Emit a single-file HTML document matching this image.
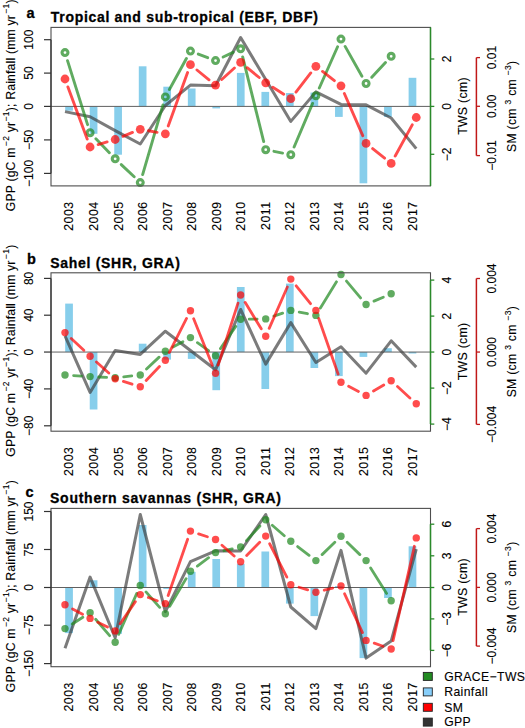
<!DOCTYPE html><html><head><meta charset="utf-8"><style>html,body{margin:0;padding:0;background:#fff;overflow:hidden} svg{display:block} text{font-family:"Liberation Sans", sans-serif;stroke:#000;stroke-width:0.12px}</style></head><body>
<svg width="525" height="728" viewBox="0 0 525 728">
<g>
<rect width="525" height="728" fill="#fff"/>
<rect x="65.20" y="106.40" width="7.7" height="4.30" fill="#87CEEB"/>
<rect x="89.73" y="106.40" width="7.7" height="27.40" fill="#87CEEB"/>
<rect x="114.26" y="106.40" width="7.7" height="48.30" fill="#87CEEB"/>
<rect x="138.79" y="66.30" width="7.7" height="40.10" fill="#87CEEB"/>
<rect x="163.32" y="86.70" width="7.7" height="19.70" fill="#87CEEB"/>
<rect x="187.85" y="88.50" width="7.7" height="17.90" fill="#87CEEB"/>
<rect x="212.38" y="106.40" width="7.7" height="2.00" fill="#87CEEB"/>
<rect x="236.91" y="72.90" width="7.7" height="33.50" fill="#87CEEB"/>
<rect x="261.44" y="91.90" width="7.7" height="14.50" fill="#87CEEB"/>
<rect x="285.97" y="93.00" width="7.7" height="13.40" fill="#87CEEB"/>
<rect x="310.50" y="92.60" width="7.7" height="13.80" fill="#87CEEB"/>
<rect x="335.03" y="106.40" width="7.7" height="10.50" fill="#87CEEB"/>
<rect x="359.56" y="106.40" width="7.7" height="76.90" fill="#87CEEB"/>
<rect x="384.09" y="106.40" width="7.7" height="10.50" fill="#87CEEB"/>
<rect x="408.62" y="77.80" width="7.7" height="28.60" fill="#87CEEB"/>
<line x1="51.0" y1="106.4" x2="430.5" y2="106.4" stroke="#606060" stroke-width="1"/>
<polyline points="65.00,111.60 90.09,116.80 115.18,130.60 140.27,144.00 165.36,105.50 190.45,85.10 215.54,85.80 240.63,37.50 265.72,79.50 290.81,121.40 315.90,91.90 340.99,104.40 366.08,104.80 391.17,118.00 416.26,148.60" fill="none" stroke="rgba(60,60,60,0.68)" stroke-width="3" stroke-linejoin="round" stroke-linecap="butt"/>
<path d="M67.51,60.62L87.58,124.68M95.91,138.76L109.36,152.74M121.27,164.58L134.18,176.82M142.63,174.54L163.00,104.96M169.40,89.53L186.41,58.47M198.31,54.07L207.68,57.63M223.14,57.03L233.03,52.37M242.66,56.95L263.69,141.55M273.96,151.34L282.57,153.06M294.10,146.97L312.61,103.43M319.30,88.02L337.59,46.78M345.12,46.41L361.95,76.19M371.78,77.33L385.47,62.47" fill="none" stroke="rgba(34,139,34,0.72)" stroke-width="2.9" stroke-linecap="round"/>
<circle cx="65.00" cy="52.60" r="2.95" fill="none" stroke="rgba(34,139,34,0.72)" stroke-width="3.1"/>
<circle cx="90.09" cy="132.70" r="2.95" fill="none" stroke="rgba(34,139,34,0.72)" stroke-width="3.1"/>
<circle cx="115.18" cy="158.80" r="2.95" fill="none" stroke="rgba(34,139,34,0.72)" stroke-width="3.1"/>
<circle cx="140.27" cy="182.60" r="2.95" fill="none" stroke="rgba(34,139,34,0.72)" stroke-width="3.1"/>
<circle cx="165.36" cy="96.90" r="2.95" fill="none" stroke="rgba(34,139,34,0.72)" stroke-width="3.1"/>
<circle cx="190.45" cy="51.10" r="2.95" fill="none" stroke="rgba(34,139,34,0.72)" stroke-width="3.1"/>
<circle cx="215.54" cy="60.60" r="2.95" fill="none" stroke="rgba(34,139,34,0.72)" stroke-width="3.1"/>
<circle cx="240.63" cy="48.80" r="2.95" fill="none" stroke="rgba(34,139,34,0.72)" stroke-width="3.1"/>
<circle cx="265.72" cy="149.70" r="2.95" fill="none" stroke="rgba(34,139,34,0.72)" stroke-width="3.1"/>
<circle cx="290.81" cy="154.70" r="2.95" fill="none" stroke="rgba(34,139,34,0.72)" stroke-width="3.1"/>
<circle cx="315.90" cy="95.70" r="2.95" fill="none" stroke="rgba(34,139,34,0.72)" stroke-width="3.1"/>
<circle cx="340.99" cy="39.10" r="2.95" fill="none" stroke="rgba(34,139,34,0.72)" stroke-width="3.1"/>
<circle cx="366.08" cy="83.50" r="2.95" fill="none" stroke="rgba(34,139,34,0.72)" stroke-width="3.1"/>
<circle cx="391.17" cy="56.30" r="2.95" fill="none" stroke="rgba(34,139,34,0.72)" stroke-width="3.1"/>
<path d="M67.91,86.88L87.18,139.12M98.14,144.59L107.13,141.91M122.96,136.34L132.49,132.46M148.54,130.78L157.09,132.32M168.23,125.90L187.58,72.60M196.97,70.00L209.02,79.80M221.77,79.46L234.40,68.04M247.15,67.70L259.20,77.50M272.82,87.30L283.71,94.20M295.95,92.06L310.76,72.94M322.53,71.45L334.36,80.65M344.34,93.50L362.73,135.70M372.65,148.64L384.60,158.16M395.20,156.03L412.23,124.87" fill="none" stroke="rgba(255,0,0,0.70)" stroke-width="2.9" stroke-linecap="round"/>
<circle cx="65.00" cy="79.00" r="4.4" fill="rgba(255,0,0,0.70)"/>
<circle cx="90.09" cy="147.00" r="4.4" fill="rgba(255,0,0,0.70)"/>
<circle cx="115.18" cy="139.50" r="4.4" fill="rgba(255,0,0,0.70)"/>
<circle cx="140.27" cy="129.30" r="4.4" fill="rgba(255,0,0,0.70)"/>
<circle cx="165.36" cy="133.80" r="4.4" fill="rgba(255,0,0,0.70)"/>
<circle cx="190.45" cy="64.70" r="4.4" fill="rgba(255,0,0,0.70)"/>
<circle cx="215.54" cy="85.10" r="4.4" fill="rgba(255,0,0,0.70)"/>
<circle cx="240.63" cy="62.40" r="4.4" fill="rgba(255,0,0,0.70)"/>
<circle cx="265.72" cy="82.80" r="4.4" fill="rgba(255,0,0,0.70)"/>
<circle cx="290.81" cy="98.70" r="4.4" fill="rgba(255,0,0,0.70)"/>
<circle cx="315.90" cy="66.30" r="4.4" fill="rgba(255,0,0,0.70)"/>
<circle cx="340.99" cy="85.80" r="4.4" fill="rgba(255,0,0,0.70)"/>
<circle cx="366.08" cy="143.40" r="4.4" fill="rgba(255,0,0,0.70)"/>
<circle cx="391.17" cy="163.40" r="4.4" fill="rgba(255,0,0,0.70)"/>
<circle cx="416.26" cy="117.50" r="4.4" fill="rgba(255,0,0,0.70)"/>
<rect x="51.0" y="27.4" width="379.5" height="158.5" fill="none" stroke="#4e4e4e" stroke-width="1.1"/>
<line x1="51.0" y1="39.7" x2="51.0" y2="173.4" stroke="#333" stroke-width="1.2"/>
<line x1="44" y1="39.7" x2="51.0" y2="39.7" stroke="#333" stroke-width="1.2"/>
<text transform="translate(33.00,39.70) rotate(-90)" text-anchor="middle" font-size="12" font-weight="normal" fill="#000" >100</text>
<line x1="44" y1="73.1" x2="51.0" y2="73.1" stroke="#333" stroke-width="1.2"/>
<text transform="translate(33.00,73.10) rotate(-90)" text-anchor="middle" font-size="12" font-weight="normal" fill="#000" >50</text>
<line x1="44" y1="106.4" x2="51.0" y2="106.4" stroke="#333" stroke-width="1.2"/>
<text transform="translate(33.00,106.40) rotate(-90)" text-anchor="middle" font-size="12" font-weight="normal" fill="#000" >0</text>
<line x1="44" y1="139.9" x2="51.0" y2="139.9" stroke="#333" stroke-width="1.2"/>
<text transform="translate(33.00,139.90) rotate(-90)" text-anchor="middle" font-size="12" font-weight="normal" fill="#000" >−50</text>
<line x1="44" y1="173.4" x2="51.0" y2="173.4" stroke="#333" stroke-width="1.2"/>
<text transform="translate(33.00,173.40) rotate(-90)" text-anchor="middle" font-size="12" font-weight="normal" fill="#000" >−100</text>
<text transform="translate(73.45,201.25) rotate(-90)" text-anchor="end" font-size="12.3" font-weight="normal" fill="#000" style="letter-spacing:0.55px" >2003</text>
<text transform="translate(97.98,201.25) rotate(-90)" text-anchor="end" font-size="12.3" font-weight="normal" fill="#000" style="letter-spacing:0.55px" >2004</text>
<text transform="translate(122.51,201.25) rotate(-90)" text-anchor="end" font-size="12.3" font-weight="normal" fill="#000" style="letter-spacing:0.55px" >2005</text>
<text transform="translate(147.04,201.25) rotate(-90)" text-anchor="end" font-size="12.3" font-weight="normal" fill="#000" style="letter-spacing:0.55px" >2006</text>
<text transform="translate(171.57,201.25) rotate(-90)" text-anchor="end" font-size="12.3" font-weight="normal" fill="#000" style="letter-spacing:0.55px" >2007</text>
<text transform="translate(196.10,201.25) rotate(-90)" text-anchor="end" font-size="12.3" font-weight="normal" fill="#000" style="letter-spacing:0.55px" >2008</text>
<text transform="translate(220.63,201.25) rotate(-90)" text-anchor="end" font-size="12.3" font-weight="normal" fill="#000" style="letter-spacing:0.55px" >2009</text>
<text transform="translate(245.16,201.25) rotate(-90)" text-anchor="end" font-size="12.3" font-weight="normal" fill="#000" style="letter-spacing:0.55px" >2010</text>
<text transform="translate(269.69,201.25) rotate(-90)" text-anchor="end" font-size="12.3" font-weight="normal" fill="#000" style="letter-spacing:0.55px" >2011</text>
<text transform="translate(294.22,201.25) rotate(-90)" text-anchor="end" font-size="12.3" font-weight="normal" fill="#000" style="letter-spacing:0.55px" >2012</text>
<text transform="translate(318.75,201.25) rotate(-90)" text-anchor="end" font-size="12.3" font-weight="normal" fill="#000" style="letter-spacing:0.55px" >2013</text>
<text transform="translate(343.28,201.25) rotate(-90)" text-anchor="end" font-size="12.3" font-weight="normal" fill="#000" style="letter-spacing:0.55px" >2014</text>
<text transform="translate(367.81,201.25) rotate(-90)" text-anchor="end" font-size="12.3" font-weight="normal" fill="#000" style="letter-spacing:0.55px" >2015</text>
<text transform="translate(392.34,201.25) rotate(-90)" text-anchor="end" font-size="12.3" font-weight="normal" fill="#000" style="letter-spacing:0.55px" >2016</text>
<text transform="translate(416.87,201.25) rotate(-90)" text-anchor="end" font-size="12.3" font-weight="normal" fill="#000" style="letter-spacing:0.55px" >2017</text>
<line x1="430.5" y1="27.4" x2="430.5" y2="185.9" stroke="#2a8a2a" stroke-width="1.5"/>
<line x1="430.5" y1="59.0" x2="434.3" y2="59.0" stroke="#2a8a2a" stroke-width="1.3"/>
<text transform="translate(450.70,59.00) rotate(-90)" text-anchor="middle" font-size="12" font-weight="normal" fill="#000" >2</text>
<line x1="430.5" y1="106.4" x2="434.3" y2="106.4" stroke="#2a8a2a" stroke-width="1.3"/>
<text transform="translate(450.70,106.40) rotate(-90)" text-anchor="middle" font-size="12" font-weight="normal" fill="#000" >0</text>
<line x1="430.5" y1="154.3" x2="434.3" y2="154.3" stroke="#2a8a2a" stroke-width="1.3"/>
<text transform="translate(450.70,154.30) rotate(-90)" text-anchor="middle" font-size="12" font-weight="normal" fill="#000" >−2</text>
<text transform="translate(466.80,106.00) rotate(-90)" text-anchor="middle" font-size="12.3" font-weight="normal" fill="#000" style="letter-spacing:0.3px" >TWS (cm)</text>
<line x1="476.4" y1="57.6" x2="476.4" y2="155.6" stroke="#c01818" stroke-width="1.5"/>
<line x1="476.4" y1="57.6" x2="480" y2="57.6" stroke="#c01818" stroke-width="1.3"/>
<text transform="translate(496.00,57.60) rotate(-90)" text-anchor="middle" font-size="12" font-weight="normal" fill="#000" >0.01</text>
<line x1="476.4" y1="106.3" x2="480" y2="106.3" stroke="#c01818" stroke-width="1.3"/>
<text transform="translate(496.00,106.30) rotate(-90)" text-anchor="middle" font-size="12" font-weight="normal" fill="#000" >0.00</text>
<line x1="476.4" y1="155.6" x2="480" y2="155.6" stroke="#c01818" stroke-width="1.3"/>
<text transform="translate(496.00,155.60) rotate(-90)" text-anchor="middle" font-size="12" font-weight="normal" fill="#000" >−0.01</text>
<text transform="translate(515.80,106.30) rotate(-90)" text-anchor="middle" font-size="12.2" font-weight="normal" fill="#000" style="letter-spacing:0.3px" >SM (cm <tspan dy="-5" font-size="8.5">3</tspan><tspan dy="5"> cm </tspan><tspan dy="-5" font-size="8.5">−3</tspan><tspan dy="5">)</tspan></text>
<text transform="translate(15.00,105.25) rotate(-90)" text-anchor="middle" font-size="12.2" font-weight="normal" fill="#000" style="letter-spacing:0.19px" >GPP (gC m<tspan dx="1.5" dy="-6" font-size="8.5">−2</tspan><tspan dy="6"> yr</tspan><tspan dx="0.5" dy="-6" font-size="8.5">−1</tspan><tspan dy="6">); Rainfall (mm yr</tspan><tspan dx="1.5" dy="-6" font-size="8.5">−1</tspan><tspan dy="6">)</tspan></text>
<text x="26.5" y="17.8" font-size="14.5" font-weight="bold" style="stroke-width:0.3px">a</text>
<text x="50.8" y="22.0" font-size="14" font-weight="bold" style="stroke-width:0.3px" textLength="267" lengthAdjust="spacing">Tropical and sub-tropical (EBF, DBF)</text>
<rect x="65.20" y="303.60" width="7.7" height="48.45" fill="#87CEEB"/>
<rect x="89.73" y="352.05" width="7.7" height="57.45" fill="#87CEEB"/>
<rect x="138.79" y="343.70" width="7.7" height="8.35" fill="#87CEEB"/>
<rect x="163.32" y="352.05" width="7.7" height="7.55" fill="#87CEEB"/>
<rect x="187.85" y="352.05" width="7.7" height="6.85" fill="#87CEEB"/>
<rect x="212.38" y="352.05" width="7.7" height="38.15" fill="#87CEEB"/>
<rect x="236.91" y="287.00" width="7.7" height="65.05" fill="#87CEEB"/>
<rect x="261.44" y="352.05" width="7.7" height="36.95" fill="#87CEEB"/>
<rect x="285.97" y="283.60" width="7.7" height="68.45" fill="#87CEEB"/>
<rect x="310.50" y="352.05" width="7.7" height="15.95" fill="#87CEEB"/>
<rect x="335.03" y="352.05" width="7.7" height="24.05" fill="#87CEEB"/>
<rect x="359.56" y="352.05" width="7.7" height="4.85" fill="#87CEEB"/>
<rect x="384.09" y="348.20" width="7.7" height="3.85" fill="#87CEEB"/>
<rect x="408.62" y="352.05" width="7.7" height="1.45" fill="#87CEEB"/>
<line x1="51.0" y1="352.05" x2="430.5" y2="352.05" stroke="#606060" stroke-width="1"/>
<polyline points="65.00,335.80 90.09,392.40 115.18,350.50 140.27,354.40 165.36,331.20 190.45,350.50 215.54,369.80 240.63,309.50 265.72,364.10 290.81,322.60 315.90,362.50 340.99,346.70 366.08,373.20 391.17,340.80 416.26,367.10" fill="none" stroke="rgba(60,60,60,0.68)" stroke-width="3" stroke-linejoin="round" stroke-linecap="butt"/>
<path d="M73.58,375.55L81.51,376.05M98.68,376.98L106.59,377.32M123.73,376.78L131.72,375.92M146.51,369.08L159.12,357.12M172.92,347.10L182.89,341.70M197.42,342.63L208.57,350.67M220.42,348.62L235.75,326.38M249.23,319.16L257.12,319.04M273.87,316.14L282.66,313.16M299.24,312.08L307.47,313.72M320.40,308.07L336.49,281.83M346.51,281.10L360.56,297.90M373.99,301.13L383.26,297.17" fill="none" stroke="rgba(34,139,34,0.72)" stroke-width="2.8" stroke-linecap="round"/>
<circle cx="65.00" cy="375.00" r="3.7" fill="rgba(34,139,34,0.72)"/>
<circle cx="90.09" cy="376.60" r="3.7" fill="rgba(34,139,34,0.72)"/>
<circle cx="115.18" cy="377.70" r="3.7" fill="rgba(34,139,34,0.72)"/>
<circle cx="140.27" cy="375.00" r="3.7" fill="rgba(34,139,34,0.72)"/>
<circle cx="165.36" cy="351.20" r="3.7" fill="rgba(34,139,34,0.72)"/>
<circle cx="190.45" cy="337.60" r="3.7" fill="rgba(34,139,34,0.72)"/>
<circle cx="215.54" cy="355.70" r="3.7" fill="rgba(34,139,34,0.72)"/>
<circle cx="240.63" cy="319.30" r="3.7" fill="rgba(34,139,34,0.72)"/>
<circle cx="265.72" cy="318.90" r="3.7" fill="rgba(34,139,34,0.72)"/>
<circle cx="290.81" cy="310.40" r="3.7" fill="rgba(34,139,34,0.72)"/>
<circle cx="315.90" cy="315.40" r="3.7" fill="rgba(34,139,34,0.72)"/>
<circle cx="340.99" cy="274.50" r="3.7" fill="rgba(34,139,34,0.72)"/>
<circle cx="366.08" cy="304.50" r="3.7" fill="rgba(34,139,34,0.72)"/>
<circle cx="391.17" cy="293.80" r="3.7" fill="rgba(34,139,34,0.72)"/>
<path d="M71.26,338.49L83.83,350.31M96.48,361.96L108.79,373.04M123.37,381.41L132.08,384.19M146.17,380.54L159.46,366.46M169.25,352.53L186.56,318.47M193.66,318.78L212.33,365.22M218.17,365.01L238.00,303.19M245.10,302.35L261.25,328.85M269.18,328.33L287.35,286.97M296.19,285.81L310.52,303.69M318.73,318.52L338.16,374.18M348.61,386.28L358.46,391.42M373.50,391.05L383.75,385.05M397.50,386.53L409.93,397.97" fill="none" stroke="rgba(255,0,0,0.70)" stroke-width="2.8" stroke-linecap="round"/>
<circle cx="65.00" cy="332.60" r="3.7" fill="rgba(255,0,0,0.70)"/>
<circle cx="90.09" cy="356.20" r="3.7" fill="rgba(255,0,0,0.70)"/>
<circle cx="115.18" cy="378.80" r="3.7" fill="rgba(255,0,0,0.70)"/>
<circle cx="140.27" cy="386.80" r="3.7" fill="rgba(255,0,0,0.70)"/>
<circle cx="165.36" cy="360.20" r="3.7" fill="rgba(255,0,0,0.70)"/>
<circle cx="190.45" cy="310.80" r="3.7" fill="rgba(255,0,0,0.70)"/>
<circle cx="215.54" cy="373.20" r="3.7" fill="rgba(255,0,0,0.70)"/>
<circle cx="240.63" cy="295.00" r="3.7" fill="rgba(255,0,0,0.70)"/>
<circle cx="265.72" cy="336.20" r="3.7" fill="rgba(255,0,0,0.70)"/>
<circle cx="290.81" cy="279.10" r="3.7" fill="rgba(255,0,0,0.70)"/>
<circle cx="315.90" cy="310.40" r="3.7" fill="rgba(255,0,0,0.70)"/>
<circle cx="340.99" cy="382.30" r="3.7" fill="rgba(255,0,0,0.70)"/>
<circle cx="366.08" cy="395.40" r="3.7" fill="rgba(255,0,0,0.70)"/>
<circle cx="391.17" cy="380.70" r="3.7" fill="rgba(255,0,0,0.70)"/>
<circle cx="416.26" cy="403.80" r="3.7" fill="rgba(255,0,0,0.70)"/>
<rect x="51.0" y="272.8" width="379.5" height="158.39999999999998" fill="none" stroke="#4e4e4e" stroke-width="1.1"/>
<line x1="51.0" y1="278.4" x2="51.0" y2="425.8" stroke="#333" stroke-width="1.2"/>
<line x1="44" y1="278.4" x2="51.0" y2="278.4" stroke="#333" stroke-width="1.2"/>
<text transform="translate(33.00,278.40) rotate(-90)" text-anchor="middle" font-size="12" font-weight="normal" fill="#000" >80</text>
<line x1="44" y1="315.2" x2="51.0" y2="315.2" stroke="#333" stroke-width="1.2"/>
<text transform="translate(33.00,315.20) rotate(-90)" text-anchor="middle" font-size="12" font-weight="normal" fill="#000" >40</text>
<line x1="44" y1="352.05" x2="51.0" y2="352.05" stroke="#333" stroke-width="1.2"/>
<text transform="translate(33.00,352.05) rotate(-90)" text-anchor="middle" font-size="12" font-weight="normal" fill="#000" >0</text>
<line x1="44" y1="388.9" x2="51.0" y2="388.9" stroke="#333" stroke-width="1.2"/>
<text transform="translate(33.00,388.90) rotate(-90)" text-anchor="middle" font-size="12" font-weight="normal" fill="#000" >−40</text>
<line x1="44" y1="425.8" x2="51.0" y2="425.8" stroke="#333" stroke-width="1.2"/>
<text transform="translate(33.00,425.80) rotate(-90)" text-anchor="middle" font-size="12" font-weight="normal" fill="#000" >−80</text>
<text transform="translate(73.45,446.55) rotate(-90)" text-anchor="end" font-size="12.3" font-weight="normal" fill="#000" style="letter-spacing:0.55px" >2003</text>
<text transform="translate(97.98,446.55) rotate(-90)" text-anchor="end" font-size="12.3" font-weight="normal" fill="#000" style="letter-spacing:0.55px" >2004</text>
<text transform="translate(122.51,446.55) rotate(-90)" text-anchor="end" font-size="12.3" font-weight="normal" fill="#000" style="letter-spacing:0.55px" >2005</text>
<text transform="translate(147.04,446.55) rotate(-90)" text-anchor="end" font-size="12.3" font-weight="normal" fill="#000" style="letter-spacing:0.55px" >2006</text>
<text transform="translate(171.57,446.55) rotate(-90)" text-anchor="end" font-size="12.3" font-weight="normal" fill="#000" style="letter-spacing:0.55px" >2007</text>
<text transform="translate(196.10,446.55) rotate(-90)" text-anchor="end" font-size="12.3" font-weight="normal" fill="#000" style="letter-spacing:0.55px" >2008</text>
<text transform="translate(220.63,446.55) rotate(-90)" text-anchor="end" font-size="12.3" font-weight="normal" fill="#000" style="letter-spacing:0.55px" >2009</text>
<text transform="translate(245.16,446.55) rotate(-90)" text-anchor="end" font-size="12.3" font-weight="normal" fill="#000" style="letter-spacing:0.55px" >2010</text>
<text transform="translate(269.69,446.55) rotate(-90)" text-anchor="end" font-size="12.3" font-weight="normal" fill="#000" style="letter-spacing:0.55px" >2011</text>
<text transform="translate(294.22,446.55) rotate(-90)" text-anchor="end" font-size="12.3" font-weight="normal" fill="#000" style="letter-spacing:0.55px" >2012</text>
<text transform="translate(318.75,446.55) rotate(-90)" text-anchor="end" font-size="12.3" font-weight="normal" fill="#000" style="letter-spacing:0.55px" >2013</text>
<text transform="translate(343.28,446.55) rotate(-90)" text-anchor="end" font-size="12.3" font-weight="normal" fill="#000" style="letter-spacing:0.55px" >2014</text>
<text transform="translate(367.81,446.55) rotate(-90)" text-anchor="end" font-size="12.3" font-weight="normal" fill="#000" style="letter-spacing:0.55px" >2015</text>
<text transform="translate(392.34,446.55) rotate(-90)" text-anchor="end" font-size="12.3" font-weight="normal" fill="#000" style="letter-spacing:0.55px" >2016</text>
<text transform="translate(416.87,446.55) rotate(-90)" text-anchor="end" font-size="12.3" font-weight="normal" fill="#000" style="letter-spacing:0.55px" >2017</text>
<line x1="430.5" y1="280.1" x2="430.5" y2="424.1" stroke="#2a8a2a" stroke-width="1.5"/>
<line x1="430.5" y1="280.1" x2="434.3" y2="280.1" stroke="#2a8a2a" stroke-width="1.3"/>
<text transform="translate(450.70,280.10) rotate(-90)" text-anchor="middle" font-size="12" font-weight="normal" fill="#000" >4</text>
<line x1="430.5" y1="316.1" x2="434.3" y2="316.1" stroke="#2a8a2a" stroke-width="1.3"/>
<text transform="translate(450.70,316.10) rotate(-90)" text-anchor="middle" font-size="12" font-weight="normal" fill="#000" >2</text>
<line x1="430.5" y1="352.05" x2="434.3" y2="352.05" stroke="#2a8a2a" stroke-width="1.3"/>
<text transform="translate(450.70,352.05) rotate(-90)" text-anchor="middle" font-size="12" font-weight="normal" fill="#000" >0</text>
<line x1="430.5" y1="388.1" x2="434.3" y2="388.1" stroke="#2a8a2a" stroke-width="1.3"/>
<text transform="translate(450.70,388.10) rotate(-90)" text-anchor="middle" font-size="12" font-weight="normal" fill="#000" >−2</text>
<line x1="430.5" y1="424.1" x2="434.3" y2="424.1" stroke="#2a8a2a" stroke-width="1.3"/>
<text transform="translate(450.70,424.10) rotate(-90)" text-anchor="middle" font-size="12" font-weight="normal" fill="#000" >−4</text>
<text transform="translate(466.80,351.35) rotate(-90)" text-anchor="middle" font-size="12.3" font-weight="normal" fill="#000" style="letter-spacing:0.3px" >TWS (cm)</text>
<line x1="476.4" y1="278.5" x2="476.4" y2="424.4" stroke="#c01818" stroke-width="1.5"/>
<line x1="476.4" y1="278.5" x2="480" y2="278.5" stroke="#c01818" stroke-width="1.3"/>
<text transform="translate(496.00,278.50) rotate(-90)" text-anchor="middle" font-size="12" font-weight="normal" fill="#000" >0.004</text>
<line x1="476.4" y1="352.05" x2="480" y2="352.05" stroke="#c01818" stroke-width="1.3"/>
<text transform="translate(496.00,352.05) rotate(-90)" text-anchor="middle" font-size="12" font-weight="normal" fill="#000" >0.000</text>
<line x1="476.4" y1="424.4" x2="480" y2="424.4" stroke="#c01818" stroke-width="1.3"/>
<text transform="translate(496.00,424.40) rotate(-90)" text-anchor="middle" font-size="12" font-weight="normal" fill="#000" >−0.004</text>
<text transform="translate(515.80,351.65) rotate(-90)" text-anchor="middle" font-size="12.2" font-weight="normal" fill="#000" style="letter-spacing:0.3px" >SM (cm <tspan dy="-5" font-size="8.5">3</tspan><tspan dy="5"> cm </tspan><tspan dy="-5" font-size="8.5">−3</tspan><tspan dy="5">)</tspan></text>
<text transform="translate(15.00,350.60) rotate(-90)" text-anchor="middle" font-size="12.2" font-weight="normal" fill="#000" style="letter-spacing:0.19px" >GPP (gC m<tspan dx="1.5" dy="-6" font-size="8.5">−2</tspan><tspan dy="6"> yr</tspan><tspan dx="0.5" dy="-6" font-size="8.5">−1</tspan><tspan dy="6">); Rainfall (mm yr</tspan><tspan dx="1.5" dy="-6" font-size="8.5">−1</tspan><tspan dy="6">)</tspan></text>
<text x="27.0" y="264.2" font-size="14.5" font-weight="bold" style="stroke-width:0.3px">b</text>
<text x="50.3" y="268.2" font-size="14" font-weight="bold" style="stroke-width:0.3px" textLength="129.5" lengthAdjust="spacing">Sahel (SHR, GRA)</text>
<rect x="65.20" y="587.50" width="7.7" height="45.60" fill="#87CEEB"/>
<rect x="89.73" y="580.30" width="7.7" height="7.20" fill="#87CEEB"/>
<rect x="114.26" y="587.50" width="7.7" height="46.30" fill="#87CEEB"/>
<rect x="138.79" y="525.00" width="7.7" height="62.50" fill="#87CEEB"/>
<rect x="163.32" y="587.50" width="7.7" height="1.40" fill="#87CEEB"/>
<rect x="187.85" y="571.90" width="7.7" height="15.60" fill="#87CEEB"/>
<rect x="212.38" y="559.00" width="7.7" height="28.50" fill="#87CEEB"/>
<rect x="236.91" y="563.80" width="7.7" height="23.70" fill="#87CEEB"/>
<rect x="261.44" y="551.50" width="7.7" height="36.00" fill="#87CEEB"/>
<rect x="285.97" y="587.50" width="7.7" height="16.10" fill="#87CEEB"/>
<rect x="310.50" y="587.50" width="7.7" height="28.60" fill="#87CEEB"/>
<rect x="335.03" y="586.00" width="7.7" height="1.50" fill="#87CEEB"/>
<rect x="359.56" y="587.50" width="7.7" height="70.60" fill="#87CEEB"/>
<rect x="384.09" y="587.50" width="7.7" height="10.50" fill="#87CEEB"/>
<rect x="408.62" y="546.30" width="7.7" height="41.20" fill="#87CEEB"/>
<line x1="51.0" y1="587.5" x2="430.5" y2="587.5" stroke="#606060" stroke-width="1"/>
<polyline points="65.00,648.30 90.09,577.10 115.18,637.70 140.27,514.50 165.36,611.60 190.45,561.70 215.54,550.80 240.63,551.00 265.72,514.50 290.81,607.00 315.90,628.60 340.99,550.40 366.08,658.10 391.17,641.10 416.26,549.20" fill="none" stroke="rgba(60,60,60,0.68)" stroke-width="3" stroke-linejoin="round" stroke-linecap="butt"/>
<path d="M72.26,624.00L82.83,617.30M95.66,619.25L109.61,635.65M118.66,634.34L136.79,593.36M145.98,591.94L159.65,607.36M169.72,606.39L186.09,578.61M197.36,566.08L208.63,557.72M223.93,550.73L232.24,548.87M246.45,540.67L259.90,526.03M272.24,525.31L284.29,535.69M297.63,546.54L309.08,555.36M322.08,554.62L334.81,542.28M347.17,542.28L359.90,554.62M370.64,567.89L386.61,593.41" fill="none" stroke="rgba(34,139,34,0.72)" stroke-width="2.8" stroke-linecap="round"/>
<circle cx="65.00" cy="628.60" r="3.7" fill="rgba(34,139,34,0.72)"/>
<circle cx="90.09" cy="612.70" r="3.7" fill="rgba(34,139,34,0.72)"/>
<circle cx="115.18" cy="642.20" r="3.7" fill="rgba(34,139,34,0.72)"/>
<circle cx="140.27" cy="585.50" r="3.7" fill="rgba(34,139,34,0.72)"/>
<circle cx="165.36" cy="613.80" r="3.7" fill="rgba(34,139,34,0.72)"/>
<circle cx="190.45" cy="571.20" r="3.7" fill="rgba(34,139,34,0.72)"/>
<circle cx="215.54" cy="552.60" r="3.7" fill="rgba(34,139,34,0.72)"/>
<circle cx="240.63" cy="547.00" r="3.7" fill="rgba(34,139,34,0.72)"/>
<circle cx="265.72" cy="519.70" r="3.7" fill="rgba(34,139,34,0.72)"/>
<circle cx="290.81" cy="541.30" r="3.7" fill="rgba(34,139,34,0.72)"/>
<circle cx="315.90" cy="560.60" r="3.7" fill="rgba(34,139,34,0.72)"/>
<circle cx="340.99" cy="536.30" r="3.7" fill="rgba(34,139,34,0.72)"/>
<circle cx="366.08" cy="560.60" r="3.7" fill="rgba(34,139,34,0.72)"/>
<circle cx="391.17" cy="600.70" r="3.7" fill="rgba(34,139,34,0.72)"/>
<path d="M72.56,608.90L82.53,614.30M97.79,622.23L107.48,627.07M120.07,623.83L135.38,601.67M148.36,597.50L157.27,600.70M168.17,595.47L187.64,539.23M198.61,533.83L207.38,536.77M221.98,545.20L234.19,556.00M246.65,555.56L259.70,542.24M269.66,543.75L286.87,577.15M299.05,587.26L307.66,589.84M324.24,590.21L332.65,588.09M344.59,593.81L362.48,632.59M374.22,643.19L383.03,646.21M393.06,640.61L414.37,546.29" fill="none" stroke="rgba(255,0,0,0.70)" stroke-width="2.8" stroke-linecap="round"/>
<circle cx="65.00" cy="604.80" r="3.7" fill="rgba(255,0,0,0.70)"/>
<circle cx="90.09" cy="618.40" r="3.7" fill="rgba(255,0,0,0.70)"/>
<circle cx="115.18" cy="630.90" r="3.7" fill="rgba(255,0,0,0.70)"/>
<circle cx="140.27" cy="594.60" r="3.7" fill="rgba(255,0,0,0.70)"/>
<circle cx="165.36" cy="603.60" r="3.7" fill="rgba(255,0,0,0.70)"/>
<circle cx="190.45" cy="531.10" r="3.7" fill="rgba(255,0,0,0.70)"/>
<circle cx="215.54" cy="539.50" r="3.7" fill="rgba(255,0,0,0.70)"/>
<circle cx="240.63" cy="561.70" r="3.7" fill="rgba(255,0,0,0.70)"/>
<circle cx="265.72" cy="536.10" r="3.7" fill="rgba(255,0,0,0.70)"/>
<circle cx="290.81" cy="584.80" r="3.7" fill="rgba(255,0,0,0.70)"/>
<circle cx="315.90" cy="592.30" r="3.7" fill="rgba(255,0,0,0.70)"/>
<circle cx="340.99" cy="586.00" r="3.7" fill="rgba(255,0,0,0.70)"/>
<circle cx="366.08" cy="640.40" r="3.7" fill="rgba(255,0,0,0.70)"/>
<circle cx="391.17" cy="649.00" r="3.7" fill="rgba(255,0,0,0.70)"/>
<circle cx="416.26" cy="537.90" r="3.7" fill="rgba(255,0,0,0.70)"/>
<rect x="51.0" y="508.4" width="379.5" height="158.30000000000007" fill="none" stroke="#4e4e4e" stroke-width="1.1"/>
<line x1="51.0" y1="511.5" x2="51.0" y2="663.6" stroke="#333" stroke-width="1.2"/>
<line x1="44" y1="511.5" x2="51.0" y2="511.5" stroke="#333" stroke-width="1.2"/>
<text transform="translate(33.00,511.50) rotate(-90)" text-anchor="middle" font-size="12" font-weight="normal" fill="#000" >150</text>
<line x1="44" y1="549.5" x2="51.0" y2="549.5" stroke="#333" stroke-width="1.2"/>
<text transform="translate(33.00,549.50) rotate(-90)" text-anchor="middle" font-size="12" font-weight="normal" fill="#000" >75</text>
<line x1="44" y1="587.5" x2="51.0" y2="587.5" stroke="#333" stroke-width="1.2"/>
<text transform="translate(33.00,587.50) rotate(-90)" text-anchor="middle" font-size="12" font-weight="normal" fill="#000" >0</text>
<line x1="44" y1="625.2" x2="51.0" y2="625.2" stroke="#333" stroke-width="1.2"/>
<text transform="translate(33.00,625.20) rotate(-90)" text-anchor="middle" font-size="12" font-weight="normal" fill="#000" >−75</text>
<line x1="44" y1="663.6" x2="51.0" y2="663.6" stroke="#333" stroke-width="1.2"/>
<text transform="translate(33.00,663.60) rotate(-90)" text-anchor="middle" font-size="12" font-weight="normal" fill="#000" >−150</text>
<text transform="translate(73.45,682.05) rotate(-90)" text-anchor="end" font-size="12.3" font-weight="normal" fill="#000" style="letter-spacing:0.55px" >2003</text>
<text transform="translate(97.98,682.05) rotate(-90)" text-anchor="end" font-size="12.3" font-weight="normal" fill="#000" style="letter-spacing:0.55px" >2004</text>
<text transform="translate(122.51,682.05) rotate(-90)" text-anchor="end" font-size="12.3" font-weight="normal" fill="#000" style="letter-spacing:0.55px" >2005</text>
<text transform="translate(147.04,682.05) rotate(-90)" text-anchor="end" font-size="12.3" font-weight="normal" fill="#000" style="letter-spacing:0.55px" >2006</text>
<text transform="translate(171.57,682.05) rotate(-90)" text-anchor="end" font-size="12.3" font-weight="normal" fill="#000" style="letter-spacing:0.55px" >2007</text>
<text transform="translate(196.10,682.05) rotate(-90)" text-anchor="end" font-size="12.3" font-weight="normal" fill="#000" style="letter-spacing:0.55px" >2008</text>
<text transform="translate(220.63,682.05) rotate(-90)" text-anchor="end" font-size="12.3" font-weight="normal" fill="#000" style="letter-spacing:0.55px" >2009</text>
<text transform="translate(245.16,682.05) rotate(-90)" text-anchor="end" font-size="12.3" font-weight="normal" fill="#000" style="letter-spacing:0.55px" >2010</text>
<text transform="translate(269.69,682.05) rotate(-90)" text-anchor="end" font-size="12.3" font-weight="normal" fill="#000" style="letter-spacing:0.55px" >2011</text>
<text transform="translate(294.22,682.05) rotate(-90)" text-anchor="end" font-size="12.3" font-weight="normal" fill="#000" style="letter-spacing:0.55px" >2012</text>
<text transform="translate(318.75,682.05) rotate(-90)" text-anchor="end" font-size="12.3" font-weight="normal" fill="#000" style="letter-spacing:0.55px" >2013</text>
<text transform="translate(343.28,682.05) rotate(-90)" text-anchor="end" font-size="12.3" font-weight="normal" fill="#000" style="letter-spacing:0.55px" >2014</text>
<text transform="translate(367.81,682.05) rotate(-90)" text-anchor="end" font-size="12.3" font-weight="normal" fill="#000" style="letter-spacing:0.55px" >2015</text>
<text transform="translate(392.34,682.05) rotate(-90)" text-anchor="end" font-size="12.3" font-weight="normal" fill="#000" style="letter-spacing:0.55px" >2016</text>
<text transform="translate(416.87,682.05) rotate(-90)" text-anchor="end" font-size="12.3" font-weight="normal" fill="#000" style="letter-spacing:0.55px" >2017</text>
<line x1="430.5" y1="524.2" x2="430.5" y2="650.4" stroke="#2a8a2a" stroke-width="1.5"/>
<line x1="430.5" y1="524.2" x2="434.3" y2="524.2" stroke="#2a8a2a" stroke-width="1.3"/>
<text transform="translate(450.70,524.20) rotate(-90)" text-anchor="middle" font-size="12" font-weight="normal" fill="#000" >6</text>
<line x1="430.5" y1="555.8" x2="434.3" y2="555.8" stroke="#2a8a2a" stroke-width="1.3"/>
<text transform="translate(450.70,555.80) rotate(-90)" text-anchor="middle" font-size="12" font-weight="normal" fill="#000" >3</text>
<line x1="430.5" y1="587.5" x2="434.3" y2="587.5" stroke="#2a8a2a" stroke-width="1.3"/>
<text transform="translate(450.70,587.50) rotate(-90)" text-anchor="middle" font-size="12" font-weight="normal" fill="#000" >0</text>
<line x1="430.5" y1="618.9" x2="434.3" y2="618.9" stroke="#2a8a2a" stroke-width="1.3"/>
<text transform="translate(450.70,618.90) rotate(-90)" text-anchor="middle" font-size="12" font-weight="normal" fill="#000" >−3</text>
<line x1="430.5" y1="650.4" x2="434.3" y2="650.4" stroke="#2a8a2a" stroke-width="1.3"/>
<text transform="translate(450.70,650.40) rotate(-90)" text-anchor="middle" font-size="12" font-weight="normal" fill="#000" >−6</text>
<text transform="translate(466.80,586.90) rotate(-90)" text-anchor="middle" font-size="12.3" font-weight="normal" fill="#000" style="letter-spacing:0.3px" >TWS (cm)</text>
<line x1="476.4" y1="528.6" x2="476.4" y2="646.1" stroke="#c01818" stroke-width="1.5"/>
<line x1="476.4" y1="528.6" x2="480" y2="528.6" stroke="#c01818" stroke-width="1.3"/>
<text transform="translate(496.00,528.60) rotate(-90)" text-anchor="middle" font-size="12" font-weight="normal" fill="#000" >0.004</text>
<line x1="476.4" y1="587.4" x2="480" y2="587.4" stroke="#c01818" stroke-width="1.3"/>
<text transform="translate(496.00,587.40) rotate(-90)" text-anchor="middle" font-size="12" font-weight="normal" fill="#000" >0.000</text>
<line x1="476.4" y1="646.1" x2="480" y2="646.1" stroke="#c01818" stroke-width="1.3"/>
<text transform="translate(496.00,646.10) rotate(-90)" text-anchor="middle" font-size="12" font-weight="normal" fill="#000" >−0.004</text>
<text transform="translate(515.80,587.20) rotate(-90)" text-anchor="middle" font-size="12.2" font-weight="normal" fill="#000" style="letter-spacing:0.3px" >SM (cm <tspan dy="-5" font-size="8.5">3</tspan><tspan dy="5"> cm </tspan><tspan dy="-5" font-size="8.5">−3</tspan><tspan dy="5">)</tspan></text>
<text transform="translate(15.00,586.14) rotate(-90)" text-anchor="middle" font-size="12.2" font-weight="normal" fill="#000" style="letter-spacing:0.19px" >GPP (gC m<tspan dx="1.5" dy="-6" font-size="8.5">−2</tspan><tspan dy="6"> yr</tspan><tspan dx="0.5" dy="-6" font-size="8.5">−1</tspan><tspan dy="6">); Rainfall (mm yr</tspan><tspan dx="1.5" dy="-6" font-size="8.5">−1</tspan><tspan dy="6">)</tspan></text>
<text x="25.5" y="497.2" font-size="14.5" font-weight="bold" style="stroke-width:0.3px">c</text>
<text x="50.0" y="503.0" font-size="14" font-weight="bold" style="stroke-width:0.3px" textLength="231" lengthAdjust="spacing">Southern savannas (SHR, GRA)</text>
<rect x="423.3" y="672.4" width="9" height="8" fill="#228B22" stroke="#222" stroke-width="0.9"/>
<text x="444.2" y="680.6" font-size="12.2" style="letter-spacing:0.4px">GRACE−TWS</text>
<rect x="423.3" y="687.9" width="9" height="8" fill="#87CEFA" stroke="#222" stroke-width="0.9"/>
<text x="444.2" y="696.1" font-size="12.2" style="letter-spacing:0.4px">Rainfall</text>
<rect x="423.3" y="703.3" width="9" height="8" fill="#FF0000" stroke="#222" stroke-width="0.9"/>
<text x="444.2" y="711.5" font-size="12.2" style="letter-spacing:0.4px">SM</text>
<rect x="423.3" y="718.1" width="9" height="8" fill="#333333" stroke="#222" stroke-width="0.9"/>
<text x="444.2" y="726.3" font-size="12.2" style="letter-spacing:0.4px">GPP</text>
</g></svg></body></html>
